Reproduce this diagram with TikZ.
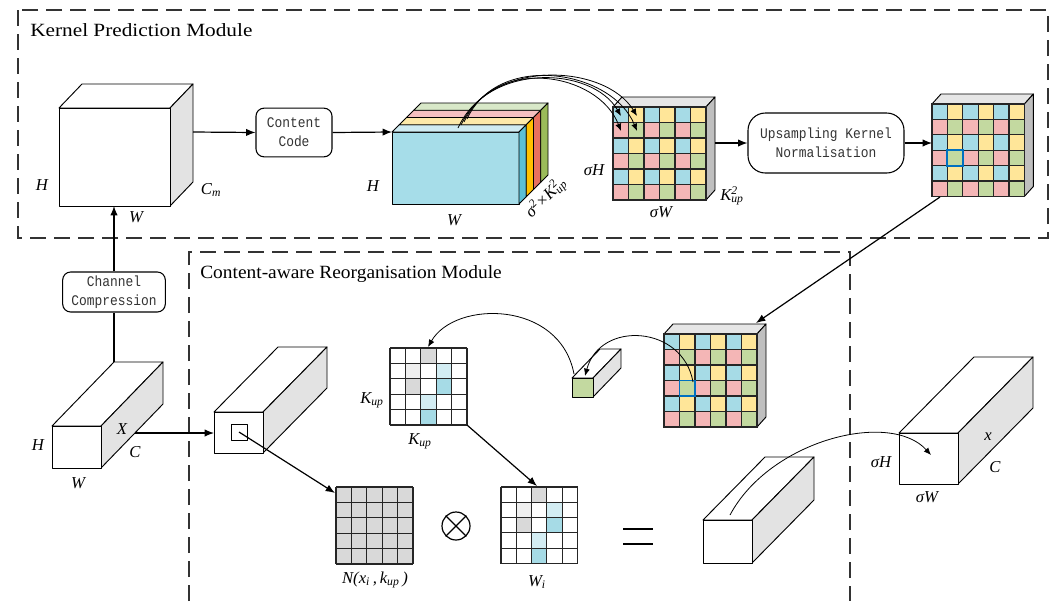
\documentclass[tikz,border=0pt]{standalone}
\usepackage{fontspec}
\usepackage{graphicx}
\setmainfont{Liberation Serif}
\setmonofont{Liberation Mono}
\usetikzlibrary{arrows.meta}

\definecolor{cblue}{HTML}{A6DBE6}
\definecolor{cyellow}{HTML}{FFE699}
\definecolor{cpink}{HTML}{F4B6B6}
\definecolor{cgreen}{HTML}{C3D9A0}
\definecolor{sideg}{HTML}{E3E3E3}
\definecolor{gridside}{HTML}{BFBFBF}
\definecolor{gridtop}{HTML}{E6E6E6}
\definecolor{hl}{HTML}{0070C0}
\definecolor{kgray}{HTML}{D9D9D9}
\definecolor{klight}{HTML}{EFEFEF}
\definecolor{kpale}{HTML}{D3EDF3}
\definecolor{slabfront}{HTML}{A6DDE9}
\definecolor{topA}{HTML}{CFEBF2}
\definecolor{topB}{HTML}{FDE9A9}
\definecolor{topC}{HTML}{F4C0C0}
\definecolor{topD}{HTML}{D8E8C8}
\definecolor{sideA}{HTML}{5BBFD6}
\definecolor{sideB}{HTML}{FFC000}
\definecolor{sideC}{HTML}{E8705F}
\definecolor{sideD}{HTML}{9BBB59}

% labels with subscripts and superscripts
\newcommand\Kup{\textit{K}\textsubscript{\textit{up}}}
\newcommand\Kupsq{\textit{K}\rlap{\textsuperscript{2}}\textsubscript{\textit{up}}}
\newcommand\mono[1]{\scalebox{0.88}[1]{#1}}

% cuboid: front corners (x0,y0)-(x1,y1), depth (dx,dy), fills front/side/top
\newcommand\prism[9]{%
  \filldraw[cubeline,fill=#9] (#1,#2) -- ({#1+#5},{#2-#6}) -- ({#3+#5},{#2-#6}) -- (#3,#2) -- cycle;
  \filldraw[cubeline,fill=#8] (#3,#2) -- ({#3+#5},{#2-#6}) -- ({#3+#5},{#4-#6}) -- (#3,#4) -- cycle;
  \filldraw[cubeline,fill=#7] (#1,#2) rectangle (#3,#4);
}

% 6x6 checker of kernel colours
\newcommand\checker[3]{%
  \foreach \ri in {0,...,5}{%
    \foreach \cj in {0,...,5}{%
      \pgfmathtruncatemacro\idx{2*mod(\ri,2)+mod(\cj,2)}%
      \ifcase\idx\def\cellcol{cblue}\or\def\cellcol{cyellow}\or\def\cellcol{cpink}\else\def\cellcol{cgreen}\fi
      \filldraw[gridline,fill=\cellcol] ({#1+\cj*#3},{#2+\ri*#3}) rectangle ++(#3,#3);
    }}}

% one cell of a 5x5 kernel: x0 y0 cell col row colour
\newcommand\kcell[6]{\fill[#6] ({#1+#4*#3},{#2+#5*#3}) rectangle ++(#3,#3);}

% 5x5 kernel grid: x0 y0 cell, #4 = 1 coloured pattern, 0 all gray
\newcommand\kernelgrid[4]{%
  \ifnum#4=1
    \fill[white] (#1,#2) rectangle ++({5*#3},{5*#3});
    \kcell{#1}{#2}{#3}{2}{0}{kgray}
    \kcell{#1}{#2}{#3}{1}{1}{klight}
    \kcell{#1}{#2}{#3}{3}{1}{kpale}
    \kcell{#1}{#2}{#3}{1}{2}{kgray}
    \kcell{#1}{#2}{#3}{3}{2}{cblue}
    \kcell{#1}{#2}{#3}{2}{3}{kpale}
    \kcell{#1}{#2}{#3}{2}{4}{cblue}
  \else
    \fill[kgray] (#1,#2) rectangle ++({5*#3},{5*#3});
  \fi
  \foreach \kk in {0,...,5}{%
    \draw[gridline] ({#1+\kk*#3},#2) -- ++(0,{5*#3});
    \draw[gridline] (#1,{#2+\kk*#3}) -- ++({5*#3},0);
  }}

\begin{document}
\begin{tikzpicture}[x=0.75pt,y=-0.75pt,
  cubeline/.style={draw=black, line width=0.7pt, line join=round},
  gridline/.style={draw=black!85, line width=0.8pt},
  dashbox/.style={draw=black!80, line width=1pt, dash pattern=on 12pt off 6pt},
  conn/.style={draw=black, line width=0.9pt, -{Latex[length=7pt,width=5.5pt]}},
  thinconn/.style={draw=black, line width=0.6pt, -{Latex[length=5.5pt,width=4.5pt]}},
  plain/.style={draw=black, line width=0.9pt},
  lab/.style={font=\fontsize{12.5}{14}\selectfont\itshape, inner sep=0pt},
  title/.style={font=\fontsize{14}{16}\selectfont, inner sep=0pt, anchor=base west},
  opbox/.style={draw=black, line width=0.8pt, rounded corners=6pt, align=center,
    inner sep=0pt, font=\fontsize{11}{14.2}\selectfont\ttfamily, text=black!80}
]
\useasboundingbox (0,0) rectangle (1056,601);

% module frames
\draw[dashbox] (18,10) rectangle (1048,238);
\draw[dashbox] (189,601) -- (189,252) -- (850,252) -- (850,601);
\node[title] (kpm) at (30,36) {\scalebox{1.14}[1]{Kernel Prediction Module}};
\node[title] (crm) at (200,278) {\scalebox{1.04}[1]{Content-aware Reorganisation Module}};

% compressed feature cube
\prism{59}{108}{170}{206}{23}{24}{white}{sideg}{white}
\coordinate (cubeR) at (193,132);
\coordinate (cubeB) at (114,206);
\node[lab] (cH) at (42,185) {H};
\node[lab] (cCm) at (211,190) {C\textsubscript{\textit{m}}};
\node[lab] (cW) at (136,217) {W};

% operation boxes
\node[opbox, minimum width=57pt, minimum height=36.5pt] (ccode) at (294,132.5)
  {\mono{Content}\\\mono{Code}};
\node[opbox, rounded corners=13pt, minimum width=117pt, minimum height=45pt] (ukn) at (826,143)
  {\mono{Upsampling Kernel}\\\mono{Normalisation}};
\node[opbox, minimum width=77pt, minimum height=30pt] (ccomp) at (114,292)
  {\mono{Channel}\\\mono{Compression}};

% predicted kernel volume, four stacked layers
\filldraw[cubeline,fill=slabfront] (392,132) rectangle (519,204);
\foreach \li/\tc/\sc in {0/topA/sideA,1/topB/sideB,2/topC/sideC,3/topD/sideD}{%
  \filldraw[cubeline,fill=\tc] ({392+7.25*\li},{132-7.25*\li}) -- ({392+7.25*(\li+1)},{132-7.25*(\li+1)})
     -- ({519+7.25*(\li+1)},{132-7.25*(\li+1)}) -- ({519+7.25*\li},{132-7.25*\li}) -- cycle;
  \filldraw[cubeline,fill=\sc] ({519+7.25*\li},{132-7.25*\li}) -- ({519+7.25*(\li+1)},{132-7.25*(\li+1)})
     -- ({519+7.25*(\li+1)},{204-7.25*(\li+1)}) -- ({519+7.25*\li},{204-7.25*\li}) -- cycle;
}
\coordinate (slabL) at (392,132);
\node[lab] (sH) at (373,186) {H};
\node[lab] (sW) at (454,220) {W};
\node[lab, rotate=45] (sC) at (546,198) {σ\textsuperscript{2}×\Kupsq};

% reshaped kernel map
\prism{613}{107}{706}{200}{9}{10}{white}{gridside}{gridtop}
\checker{613}{107}{15.5}
\coordinate (g1R) at (715,143);
\node[lab] (g1H) at (594,170) {σH};
\node[lab] (g1W) at (661,212) {σW};
\node[lab] (g1C) at (732,196) {\Kupsq};

% normalised kernel map
\prism{932}{104}{1024.4}{196.4}{9}{10}{white}{gridside}{gridtop}
\checker{932}{104}{15.4}
\draw[hl, line width=1.4pt] (947.4,150.2) rectangle ++(15.4,15.4);
\coordinate (g2L) at (932,143);
\coordinate (g2B) at (940,197);

% kernel map copy in the reassembly module
\prism{664}{334}{757}{427}{9}{10}{white}{gridside}{gridtop}
\checker{664}{334}{15.5}
\draw[hl, line width=1.4pt] (679.5,380.5) rectangle ++(15.5,15.5);
\coordinate (g3T) at (756,323);
\coordinate (g3cell) at (693,382);

% single kernel column
\prism{572}{378}{593}{397}{28}{29}{cgreen}{sideg}{white}
\coordinate (smallF) at (585,376);
\coordinate (smallT) at (574,374);

% reshaped kernel K_up x K_up
\kernelgrid{390}{348}{15.4}{1}
\coordinate (kTop) at (428,347);
\coordinate (kBR) at (467,425);
\node[lab] (kL) at (372,400) {\Kup};
\node[lab] (kB) at (420,441) {\Kup};

% input feature map X
\prism{52}{426}{101}{468}{62}{64}{white}{sideg}{white}
\coordinate (xTop) at (114,362);
\coordinate (xSide) at (135,433);
\node[lab] (xH) at (38,445) {H};
\node[lab] (xW) at (78,483) {W};
\node[lab] (xX) at (122,429) {X};
\node[lab] (xC) at (135,452) {C};

% feature map with neighbourhood patch
\prism{214}{412}{263}{453}{64}{65}{white}{sideg}{white}
\filldraw[cubeline,fill=white] (231,424) rectangle (247,440);
\coordinate (midF) at (214,433);
\coordinate (patch) at (239,432);

% neighbourhood, product and kernel
\kernelgrid{336}{487}{15.4}{0}
\coordinate (nTL) at (335,493);
\node[lab] (nlab) at (375,580) {N(x\textsubscript{\textit{i}}\,,\,k\textsubscript{\textit{up}}\,)};
\node[draw, circle, line width=0.9pt, minimum size=21pt, inner sep=0pt] (otimes) at (456,526) {};
\draw[line width=0.9pt] (otimes.north east) -- (otimes.south west) (otimes.north west) -- (otimes.south east);
\kernelgrid{501}{487}{15.3}{1}
\coordinate (wTop) at (537,486);
\node[lab] (wlab) at (537,582) {W\textsubscript{\textit{i}}};
\draw[line width=1.2pt] (623,529) -- (653,529) (623,544) -- (653,544);

% reassembled output column
\prism{703}{520}{752}{563}{62}{63}{white}{sideg}{white}
\coordinate (resTop) at (730,515);

% upsampled output
\prism{899}{433}{958}{484}{75}{76}{white}{sideg}{white}
\coordinate (outDot) at (931,455);
\node[lab] (oH) at (881,462) {σH};
\node[lab] (oW) at (927,497) {σW};
\node[lab] (ox) at (988,437) {x};
\node[lab] (oC) at (995,467) {C};

% connectors
\draw[plain] (xTop) -- (ccomp.south);
\draw[conn] (ccomp.north) -- (cubeB);
\draw[conn] (cubeR) -- (ccode.west);
\draw[conn] (ccode.east) -- (slabL);
\coordinate (s1) at (458,128); \coordinate (t1) at (621,116);
\coordinate (s2) at (461,125); \coordinate (t2) at (637,116);
\coordinate (s3) at (464,122); \coordinate (t3) at (621,131);
\coordinate (s4) at (467,119); \coordinate (t4) at (637,131);
\draw[thinconn] (s1) .. controls (488,62) and (592,66) .. (t1);
\draw[thinconn] (s2) .. controls (492,58) and (605,64) .. (t2);
\draw[thinconn] (s3) .. controls (495,55) and (598,72) .. (t3);
\draw[thinconn] (s4) .. controls (498,51) and (612,70) .. (t4);
\draw[conn] (g1R) -- (ukn.west);
\draw[conn] (ukn.east) -- (g2L);
\draw[conn] (g2B) -- (g3T);
\draw[thinconn] (g3cell) .. controls (683,325) and (600,320) .. (smallF);
\draw[thinconn] (smallT) .. controls (560,300) and (455,300) .. (kTop);
\draw[conn] (kBR) -- (wTop);
\draw[conn] (xSide) -- (midF);
\draw[conn] (patch) -- (nTL);
\draw[thinconn] (resTop) .. controls (770,440) and (890,410) .. (outDot);
\end{tikzpicture}
\end{document}
